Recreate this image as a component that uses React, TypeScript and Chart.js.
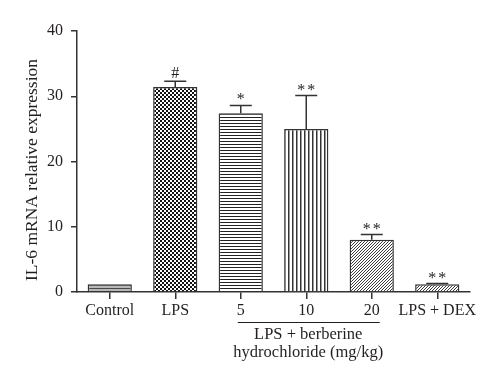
import React, { useEffect, useRef } from "react";
import { Chart, registerables } from "chart.js";

Chart.register(...registerables);

const categories = ["Control", "LPS", "5", "10", "20", "LPS + DEX"];
const means = [1.2, 31.4, 27.4, 25.0, 8.0, 1.2];
const errors = [0, 0.9, 1.2, 5.1, 0.8, 0.1];
const marks = ["", "#", "*", "**", "**", "**"];
const patternKinds = ["grayLines", "checker", "hlines", "vlines", "diag", "diag"];
const yTicks = [0, 10, 20, 30, 40];
const yTitle = "IL-6 mRNA relative expression";
const groupLines = ["LPS + berberine", "hydrochloride (mg/kg)"];
const groupRange = ["5", "20"];

const INK = "#231f20";
const FONT = "'Liberation Serif', 'Times New Roman', serif";

function makePattern(kind: string): CanvasPattern | string {
  const c = document.createElement("canvas");
  const ctx = c.getContext("2d")!;
  if (kind === "grayLines") {
    c.width = 4; c.height = 3;
    ctx.fillStyle = "#b8b8b8"; ctx.fillRect(0, 0, 4, 3);
    ctx.fillStyle = "#4a4a4a"; ctx.fillRect(0, 0, 4, 1);
  } else if (kind === "checker") {
    c.width = 4; c.height = 4;
    ctx.fillStyle = "#ffffff"; ctx.fillRect(0, 0, 4, 4);
    ctx.fillStyle = "#111111";
    ctx.fillRect(0, 0, 2, 2); ctx.fillRect(2, 2, 2, 2);
  } else if (kind === "hlines") {
    c.width = 4; c.height = 3;
    ctx.fillStyle = "#ffffff"; ctx.fillRect(0, 0, 4, 3);
    ctx.fillStyle = "#222222"; ctx.fillRect(0, 0, 4, 1);
  } else if (kind === "vlines") {
    c.width = 4; c.height = 4;
    ctx.fillStyle = "#ffffff"; ctx.fillRect(0, 0, 4, 4);
    ctx.fillStyle = "#333333"; ctx.fillRect(0, 0, 1, 4);
    ctx.fillStyle = "#999999"; ctx.fillRect(1, 0, 1, 4);
  } else {
    c.width = 3; c.height = 3;
    ctx.fillStyle = "#ffffff"; ctx.fillRect(0, 0, 3, 3);
    ctx.fillStyle = "#3a3a3a";
    for (let i = 0; i < 3; i++) ctx.fillRect(2 - i, i, 1, 1);
  }
  const p = ctx.createPattern(c, "repeat");
  return p || "#888";
}

const overlayPlugin = {
  id: "overlay",
  afterDatasetsDraw(chart: any) {
    const ctx = chart.ctx as CanvasRenderingContext2D;
    const meta = chart.getDatasetMeta(0);
    const y = chart.scales.y;
    ctx.save();
    ctx.strokeStyle = "#333";
    ctx.lineWidth = 1.5;
    meta.data.forEach((bar: any, i: number) => {
      const top = y.getPixelForValue(means[i]);
      const cap = y.getPixelForValue(means[i] + errors[i]);
      if (errors[i] > 0) {
        ctx.beginPath();
        ctx.moveTo(bar.x, top);
        ctx.lineTo(bar.x, cap);
        ctx.moveTo(bar.x - 11, cap);
        ctx.lineTo(bar.x + 11, cap);
        ctx.stroke();
      }
      if (marks[i]) {
        ctx.fillStyle = INK;
        ctx.font = `16px ${FONT}`;
        ctx.textAlign = "left";
        ctx.textBaseline = "alphabetic";
        const base = marks[i] === "#" ? cap - 3 : cap - 1;
        const spacing = marks[i].length > 1 ? 2 : 0;
        (ctx as any).letterSpacing = `${spacing}px`;
        const w = ctx.measureText(marks[i]).width - spacing;
        ctx.fillText(marks[i], bar.x - w / 2, base);
        (ctx as any).letterSpacing = "0px";
      }
    });
    ctx.restore();
  },
  afterDraw(chart: any) {
    const ctx = chart.ctx as CanvasRenderingContext2D;
    const x = chart.scales.x;
    ctx.save();
    const i0 = categories.indexOf(groupRange[0]);
    const i1 = categories.indexOf(groupRange[1]);
    const x0 = x.getPixelForValue(i0) - 3;
    const x1 = x.getPixelForValue(i1) + 8;
    ctx.strokeStyle = INK;
    ctx.lineWidth = 1.2;
    ctx.beginPath();
    ctx.moveTo(x0, 322.5);
    ctx.lineTo(x1, 322.5);
    ctx.stroke();
    const cx = (x.getPixelForValue(i0) + x.getPixelForValue(i1)) / 2 + 2;
    ctx.fillStyle = INK;
    ctx.font = `16.5px ${FONT}`;
    ctx.textAlign = "center";
    ctx.textBaseline = "alphabetic";
    ctx.fillText(groupLines[0], cx, 339);
    ctx.fillText(groupLines[1], cx, 357);
    ctx.translate(32, 170);
    ctx.rotate(-Math.PI / 2);
    ctx.textBaseline = "middle";
    ctx.font = `17.5px ${FONT}`;
    ctx.fillText(yTitle, 0, 0);
    ctx.restore();
  },
};

export default function App() {
  const ref = useRef<HTMLCanvasElement>(null);
  useEffect(() => {
    if (!ref.current) return;
    const bg = patternKinds.map(makePattern);
    const chart = new Chart(ref.current, {
      type: "bar",
      data: {
        labels: categories,
        datasets: [
          {
            data: means,
            backgroundColor: bg as any,
            borderColor: "#333",
            borderWidth: 1.5,
            categoryPercentage: 1,
            barPercentage: 0.675,
          },
        ],
      },
      options: {
        responsive: false,
        animation: false,
        layout: { padding: { top: 31, right: 30, left: 0, bottom: 0 } },
        plugins: { legend: { display: false }, tooltip: { enabled: false } },
        scales: {
          x: {
            grid: { drawOnChartArea: false, drawTicks: true, tickLength: 7, offset: false, color: "#333", lineWidth: 1.5 },
            border: { display: true, color: "#333", width: 1.5 },
            ticks: { color: INK, font: { family: FONT, size: 16 }, padding: 2, maxRotation: 0, autoSkip: false },
            afterFit: (s: any) => { s.height = 93; },
          },
          y: {
            min: 0,
            max: 40,
            grid: { drawOnChartArea: false, drawTicks: true, tickLength: 6, color: "#333", lineWidth: 1.5 },
            border: { display: true, color: "#333", width: 1.5 },
            ticks: {
              stepSize: 10,
              color: INK,
              font: { family: FONT, size: 16 },
              padding: 8,
              callback: (v: any) => (yTicks.includes(Number(v)) ? String(v) : ""),
            },
            afterFit: (s: any) => { s.width = 77; },
          },
        },
      },
      plugins: [overlayPlugin],
    });
    return () => chart.destroy();
  }, []);
  return (
    <div style={{ position: "absolute", left: 0, top: 0, width: 500, height: 385, background: "#fff" }}>
      <canvas ref={ref} width={500} height={385} />
    </div>
  );
}
